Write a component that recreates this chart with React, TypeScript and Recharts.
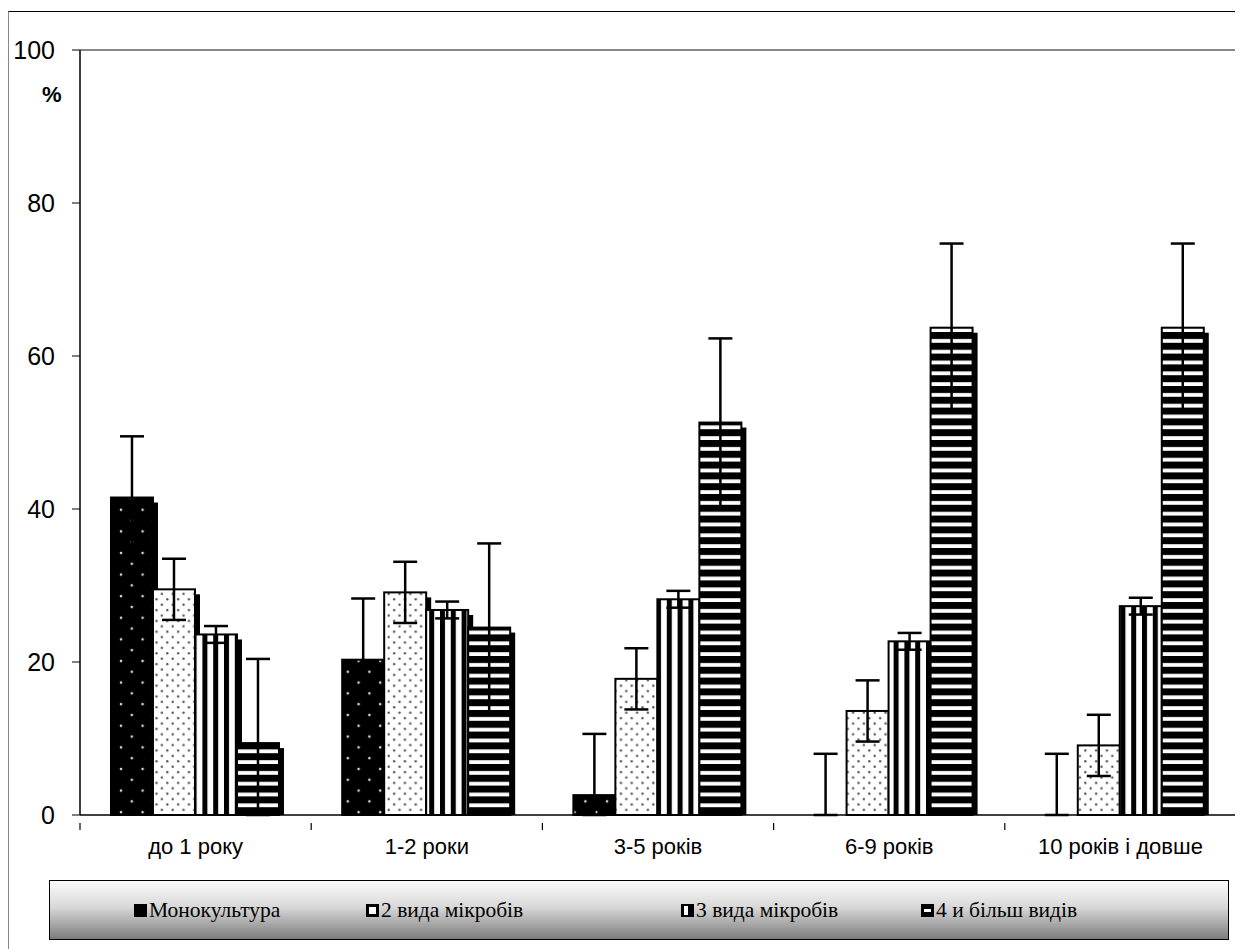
import React from 'react';
import { BarChart, Bar, XAxis, YAxis, ErrorBar, ReferenceLine } from 'recharts';

// categories and series values (percent)
const categories = ['до 1 року', '1-2 роки', '3-5 років', '6-9 років', '10 років і довше'];
const seriesNames = ['Монокультура', '2 вида мікробів', '3 вида мікробів', '4 и більш видів'];
const mono = [41.5, 20.3, 2.6, 0, 0];
const twoKinds = [29.5, 29.1, 17.8, 13.6, 9.1];
const threeKinds = [23.6, 26.8, 28.2, 22.7, 27.3];
const fourKinds = [9.4, 24.5, 51.3, 63.7, 63.7];
// half-width of the error bars for every series
const monoErr = [8, 8, 8, 8, 8];
const twoErr = [4, 4, 4, 4, 4];
const threeErr = [1.1, 1.1, 1.1, 1.1, 1.1];
const fourErr = [11, 11, 11, 11, 11];
const yTicks = [0, 20, 40, 60, 80, 100];

const PATTERNS = ['pMono', 'pTwo', 'pThree', 'pFour'];

// error bars never go below the axis
const errPair = (v: number, e: number) => [Math.min(e, v), e];

const data = categories.map((name, i) => ({
  name,
  mono: mono[i],
  two: twoKinds[i],
  three: threeKinds[i],
  four: fourKinds[i],
  monoE: errPair(mono[i], monoErr[i]),
  twoE: errPair(twoKinds[i], twoErr[i]),
  threeE: errPair(threeKinds[i], threeErr[i]),
  fourE: errPair(fourKinds[i], fourErr[i]),
}));

// bar with a black drop shadow, like the old excel look
const ShadowBar = (props: any) => {
  const { x, y, width, height, fill } = props;
  if (!height || height <= 0) return null;
  const sh = 5;
  return (
    <g>
      {height > sh && <rect x={x + sh} y={y + sh} width={width} height={height - sh} fill="#000" />}
      <rect x={x} y={y} width={width} height={height} fill={fill} stroke="#000" strokeWidth={2} />
    </g>
  );
};

const BAND_HALF = 1156 / categories.length / 2;

const XTick = (props: any) => {
  const { x, y, payload, index } = props;
  const half = payload && payload.offset ? payload.offset : BAND_HALF;
  const axisY = y;
  return (
    <g>
      <line x1={x - half} y1={axisY} x2={x - half} y2={axisY + 7} stroke="#000" strokeWidth={1.2} />
      {index === categories.length - 1 && (
        <line x1={x + half} y1={axisY} x2={x + half} y2={axisY + 7} stroke="#000" strokeWidth={1.2} />
      )}
      <text x={x} y={axisY + 31} textAnchor="middle" fontSize={22} fontFamily="Arial, 'Liberation Sans', sans-serif" fill="#000">
        {payload.value}
      </text>
    </g>
  );
};

const Swatch = ({ kind }: { kind: number }) => (
  <svg width={13} height={13} style={{ display: 'block', marginRight: 2 }}>
    <rect x={0} y={0} width={13} height={13} fill="#000" />
    {kind === 1 && <rect x={3} y={3} width={7} height={7} fill="#fff" />}
    {kind === 2 && <rect x={3} y={2} width={4} height={9} fill="#fff" />}
    {kind === 3 && <rect x={3} y={5} width={7} height={3} fill="#fff" />}
  </svg>
);

const legendPos = [84, 316, 631, 871];

export default function App() {
  return (
    <div style={{ position: 'relative', width: 1235, height: 941, fontFamily: 'Arial, sans-serif' }}>
      <svg width={0} height={0} style={{ position: 'absolute' }}>
        <defs>
          <pattern id="pMono" patternUnits="userSpaceOnUse" width={21.6} height={21.6}>
            <rect width={21.6} height={21.6} fill="#000" />
            <circle cx={5} cy={5} r={1.3} fill="#ddd" />
            <circle cx={15.8} cy={15.8} r={1.3} fill="#ddd" />
          </pattern>
          <pattern id="pTwo" patternUnits="userSpaceOnUse" width={10.8} height={10.8}>
            <rect width={10.8} height={10.8} fill="#fff" />
            <circle cx={2.7} cy={2.7} r={1.2} fill="#555" />
            <circle cx={8.1} cy={8.1} r={1.2} fill="#555" />
          </pattern>
          <pattern id="pThree" patternUnits="userSpaceOnUse" width={10.8} height={10.8}>
            <rect width={10.8} height={10.8} fill="#fff" />
            <rect x={0} y={0} width={5} height={10.8} fill="#000" />
          </pattern>
          <pattern id="pFour" patternUnits="userSpaceOnUse" width={10.8} height={10.8}>
            <rect width={10.8} height={10.8} fill="#fff" />
            <rect x={0} y={0} width={10.8} height={7} fill="#000" />
          </pattern>
        </defs>
      </svg>

      {/* outer frame */}
      <div style={{ position: 'absolute', left: 0, top: 3, width: 1240, height: 938, borderTop: '1px solid #000', borderLeft: '1px solid #888' }} />

      <div style={{ position: 'absolute', left: 0, top: 0 }}>
        <BarChart
          width={1235}
          height={860}
          data={data}
          margin={{ top: 42, right: 7, bottom: 13, left: 12 }}
          barCategoryGap="13.4%"
          barGap={0}
        >
          <XAxis
            dataKey="name"
            height={40}
            axisLine={{ stroke: '#000', strokeWidth: 1.5 }}
            tickLine={false}
            tick={<XTick />}
            interval={0}
          />
          <YAxis
            width={60}
            domain={[0, 100]}
            ticks={yTicks}
            tickSize={8}
            tickMargin={17}
            axisLine={{ stroke: '#000', strokeWidth: 1.5 }}
            tickLine={{ stroke: '#000' }}
            tick={{ fontSize: 25, fill: '#000', fontFamily: "Arial, 'Liberation Sans', sans-serif" }}
          />
          <YAxis
            yAxisId="right"
            orientation="right"
            width={0}
            domain={[0, 100]}
            tick={false}
            tickLine={false}
            axisLine={{ stroke: '#888', strokeWidth: 2 }}
          />
          <ReferenceLine y={100} stroke="#888" strokeWidth={2} />
          <Bar dataKey="mono" name={seriesNames[0]} fill={`url(#${PATTERNS[0]})`} shape={<ShadowBar />} isAnimationActive={false}>
            <ErrorBar dataKey="monoE" width={12} strokeWidth={2.5} stroke="#000" direction="y" />
          </Bar>
          <Bar dataKey="two" name={seriesNames[1]} fill={`url(#${PATTERNS[1]})`} shape={<ShadowBar />} isAnimationActive={false}>
            <ErrorBar dataKey="twoE" width={12} strokeWidth={2.5} stroke="#000" direction="y" />
          </Bar>
          <Bar dataKey="three" name={seriesNames[2]} fill={`url(#${PATTERNS[2]})`} shape={<ShadowBar />} isAnimationActive={false}>
            <ErrorBar dataKey="threeE" width={12} strokeWidth={2.5} stroke="#000" direction="y" />
          </Bar>
          <Bar dataKey="four" name={seriesNames[3]} fill={`url(#${PATTERNS[3]})`} shape={<ShadowBar />} isAnimationActive={false}>
            <ErrorBar dataKey="fourE" width={12} strokeWidth={2.5} stroke="#000" direction="y" />
          </Bar>
        </BarChart>
      </div>

      <div style={{ position: 'absolute', left: 34, top: 74, fontSize: 22, fontWeight: 'bold', color: '#000' }}>%</div>

      {/* legend */}
      <div
        style={{
          position: 'absolute',
          left: 41,
          top: 872,
          width: 1180,
          height: 60,
          border: '1px solid #000',
          boxSizing: 'border-box',
          background: 'linear-gradient(to bottom, #fbfbfb 0%, #d8d8d8 45%, #7c7c7c 100%)',
        }}
      >
        {seriesNames.map((n, i) => (
          <div
            key={n}
            style={{
              position: 'absolute',
              left: legendPos[i],
              top: 0,
              height: 58,
              display: 'flex',
              alignItems: 'center',
              fontFamily: "'Times New Roman', 'Liberation Serif', serif",
              fontSize: 21.5,
              color: '#000',
              whiteSpace: 'nowrap',
            }}
          >
            <Swatch kind={i} />
            {n}
          </div>
        ))}
      </div>
    </div>
  );
}
